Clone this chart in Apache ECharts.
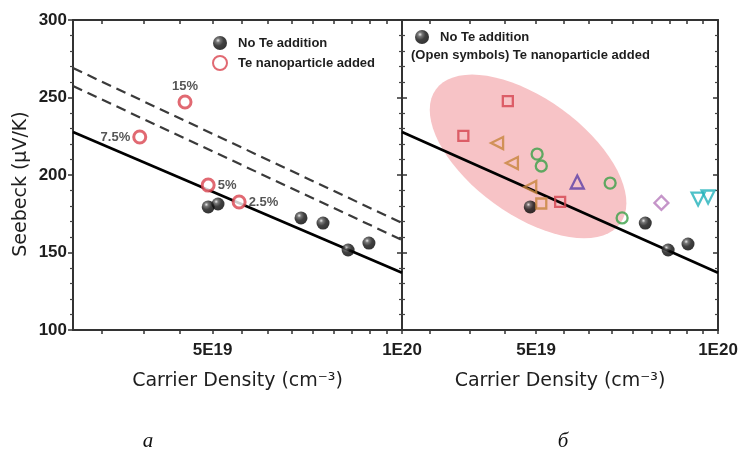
<!DOCTYPE html>
<html>
<head>
<meta charset="utf-8">
<script src="https://cdn.jsdelivr.net/npm/echarts@6/dist/echarts.min.js"></script>
<style>
  html, body { margin: 0; padding: 0; background: #fff; }
  #chart { width: 741px; height: 454px; }
</style>
</head>
<body>
<div id="chart"></div>
<script>
// Carrier density values are in units of 1E19 cm^-3, Seebeck coefficient in µV/K.
const densityTicks = [3.33, 3.89, 4.44, 5, 5.56, 6.11, 6.67, 7.22, 7.78, 8.33, 8.89, 9.44, 10];
const densityLabels = [5, 10];
const densityRange = [3, 10];
const seebeckRange = [100, 300];
const seebeckStep = 50;

// Panel a
const aNoTeDensity = [4.92, 5.10, 6.91, 7.49, 8.21, 8.86];
const aNoTeSeebeck = [179.4, 181.3, 172.3, 169.0, 151.6, 156.1];
const aTeDensity = [3.83, 4.52, 4.92, 5.51];
const aTeSeebeck = [224.5, 247.1, 193.5, 182.6];
const aTeLabels = ['7.5%', '15%', '5%', '2.5%'];

// Reference lines, given at both ends of the density range
const lineDensity = [3, 10];
const solidSeebeck = [227.7, 137.0];
const dashUpperSeebeck = [269.0, 169.0];
const dashLowerSeebeck = [257.4, 158.1];

// Panel б
const bNoTeDensity = [4.89, 7.58, 8.27, 8.92];
const bNoTeSeebeck = [179.4, 169.0, 151.6, 155.5];
const bRedSquareDensity = [3.79, 4.49, 5.48];
const bRedSquareSeebeck = [225.2, 247.7, 182.6];
const bOrangeTriDensity = [4.31, 4.56, 4.89];
const bOrangeTriSeebeck = [220.6, 207.7, 192.3];
const bOrangeSquareDensity = [5.10];
const bOrangeSquareSeebeck = [181.6];
const bGreenCircleDensity = [5.02, 5.10, 6.63, 6.94];
const bGreenCircleSeebeck = [213.5, 205.8, 194.8, 172.3];
const bPurpleTriDensity = [5.85];
const bPurpleTriSeebeck = [195.5];
const bDiamondDensity = [8.06];
const bDiamondSeebeck = [182.0];
const bCyanTriDensity = [9.27, 9.63];
const bCyanTriSeebeck = [184.5, 185.8];
// Shaded region centre
const regionDensity = [4.85];
const regionSeebeck = [212.0];

// ---- drawing ----
const lg = v => Math.log10(v);
const pairs = (xs, ys) => xs.map((x, i) => [lg(x), ys[i]]);
const fmtDensity = v => {
  const n = Math.pow(10, v);
  const e = Math.floor(Math.log10(n) + 1e-9);
  const m = Math.round(n / Math.pow(10, e) * 10) / 10;
  return m + 'E' + (19 + e);
};

const INK = '#1e1e1e';
const AXIS_FONT = 'Liberation Sans';
const TITLE_FONT = 'DejaVu Sans';

const sphere = new echarts.graphic.RadialGradient(0.36, 0.32, 0.7, [
  { offset: 0, color: '#e6e6e6' },
  { offset: 0.22, color: '#555' },
  { offset: 0.55, color: '#111' },
  { offset: 1, color: '#000' }
]);

const labelPlacement = { '7.5%': 'left', '15%': 'top', '5%': 'right', '2.5%': 'right' };

function xAxisDef(grid, position, withLabels) {
  const ax = {
    type: 'value', gridIndex: grid, position: position,
    min: lg(densityRange[0]), max: lg(densityRange[1]),
    splitLine: { show: false },
    axisLine: { show: true, onZero: false, lineStyle: { color: '#333', width: 2 } },
    axisTick: { show: true, inside: position === 'top', length: 4,
      customValues: densityTicks.map(lg), lineStyle: { color: '#333', width: 1.5 } },
    axisLabel: { show: withLabels, customValues: densityLabels.map(lg), formatter: fmtDensity,
      margin: 12, fontFamily: AXIS_FONT, fontWeight: 'bold', fontSize: 17, color: INK }
  };
  if (withLabels) {
    ax.name = 'Carrier Density (cm⁻³)';
    ax.nameLocation = 'middle';
    ax.nameGap = 42;
    ax.nameTextStyle = { fontFamily: TITLE_FONT, fontSize: 19, color: INK };
  }
  return ax;
}

function yAxisDef(grid, position, withLabels) {
  return {
    type: 'value', gridIndex: grid, position: position,
    min: seebeckRange[0], max: seebeckRange[1], interval: seebeckStep,
    splitLine: { show: false },
    axisLine: { show: true, onZero: false, lineStyle: { color: '#333', width: 2 } },
    axisTick: { show: true, inside: !(grid === 0 && position === 'left'), length: 5,
      lineStyle: { color: '#333', width: 1.5 } },
    minorTick: { show: true, splitNumber: 5, length: 3, lineStyle: { color: '#444', width: 1.2 } },
    axisLabel: { show: withLabels, margin: 6, fontFamily: AXIS_FONT, fontWeight: 'bold',
      fontSize: 17, color: INK }
  };
}

function lineSeries(name, ys, x, y, dashed) {
  return {
    type: 'line', name: name, xAxisIndex: x, yAxisIndex: y,
    data: pairs(lineDensity, ys), showSymbol: false, silent: true, z: 3,
    lineStyle: dashed ? { color: '#3a3a3a', width: 2.2, type: [10, 6] } : { color: '#000', width: 2.7 }
  };
}

function openSeries(name, xs, ys, symbol, color, size, rotate) {
  return {
    type: 'scatter', name: name, xAxisIndex: 1, yAxisIndex: 2,
    data: pairs(xs, ys), symbol: symbol, symbolSize: size, symbolRotate: rotate || 0, z: 5,
    itemStyle: { color: 'rgba(255,255,255,0)', borderColor: color, borderWidth: 2.3 }
  };
}

function ellipseRender(params, api) {
  const c = api.coord([api.value(0), api.value(1)]);
  const a = 114, b = 58, th = 36 * Math.PI / 180;
  const pts = [];
  for (let k = 0; k < 72; k++) {
    const t = k / 72 * Math.PI * 2;
    const u = a * Math.cos(t), w = b * Math.sin(t);
    pts.push([c[0] + u * Math.cos(th) - w * Math.sin(th), c[1] + u * Math.sin(th) + w * Math.cos(th)]);
  }
  return { type: 'polygon', shape: { points: pts }, style: { fill: '#f7c3c6' } };
}

const chart = echarts.init(document.getElementById('chart'), null, { renderer: 'canvas' });

const legendText = { fontFamily: AXIS_FONT, fontWeight: 'bold', fontSize: 13, color: INK,
  padding: [0, 0, 0, 2] };

const option = {
  backgroundColor: '#fff',
  animation: false,
  grid: [
    { left: 73, top: 20, width: 329, height: 310 },
    { left: 402, top: 20, width: 316, height: 310 }
  ],
  xAxis: [
    xAxisDef(0, 'bottom', true),
    xAxisDef(1, 'bottom', true),
    xAxisDef(0, 'top', false),
    xAxisDef(1, 'top', false)
  ],
  yAxis: [
    yAxisDef(0, 'left', true),
    yAxisDef(0, 'right', false),
    yAxisDef(1, 'left', false),
    yAxisDef(1, 'right', false)
  ],
  legend: [
    {
      data: ['No Te addition', 'Te nanoparticle added'], orient: 'vertical', padding: 0,
      left: 212, top: 36, itemWidth: 22, itemHeight: 14, itemGap: 5, selectedMode: false,
      textStyle: legendText
    },
    {
      data: ['No Te addition'], orient: 'vertical', padding: 0,
      left: 415, top: 30, itemWidth: 22, itemHeight: 14, selectedMode: false,
      textStyle: legendText
    }
  ],
  graphic: [
    { type: 'text', left: 411, top: 49,
      style: { text: '(Open symbols) Te nanoparticle added', fill: INK,
        font: 'bold 13px "Liberation Sans"' } },
    { type: 'text', x: 21, y: 184, rotation: Math.PI / 2,
      style: { text: 'Seebeck (μV/K)', fill: INK, font: '19px "DejaVu Sans"',
        align: 'center', verticalAlign: 'middle' } },
    { type: 'text', x: 148, y: 441,
      style: { text: 'a', fill: '#111', font: 'italic 21px "Liberation Serif"',
        align: 'center', verticalAlign: 'middle' } },
    { type: 'text', x: 563, y: 441,
      style: { text: 'б', fill: '#111', font: 'italic 21px "Liberation Serif"',
        align: 'center', verticalAlign: 'middle' } }
  ],
  series: [
    // panel a
    lineSeries('fit a', solidSeebeck, 0, 0, false),
    lineSeries('upper a', dashUpperSeebeck, 0, 0, true),
    lineSeries('lower a', dashLowerSeebeck, 0, 0, true),
    {
      type: 'scatter', name: 'No Te addition', xAxisIndex: 0, yAxisIndex: 0,
      data: pairs(aNoTeDensity, aNoTeSeebeck), symbol: 'circle', symbolSize: 13, z: 4,
      itemStyle: { color: sphere }
    },
    {
      type: 'scatter', name: 'Te nanoparticle added', xAxisIndex: 0, yAxisIndex: 0,
      data: pairs(aTeDensity, aTeSeebeck).map((p, i) => ({
        value: p,
        label: { position: labelPlacement[aTeLabels[i]] }
      })),
      symbol: 'circle', symbolSize: 12, z: 5,
      itemStyle: { color: '#fff', borderColor: '#d9434f', borderWidth: 3 },
      label: {
        show: true, distance: 2,
        formatter: p => aTeLabels[p.dataIndex],
        fontFamily: AXIS_FONT, fontWeight: 'bold', fontSize: 13, color: '#2a2a2a'
      }
    },
    // panel б
    {
      type: 'custom', name: 'region', xAxisIndex: 1, yAxisIndex: 2, z: 1, silent: true,
      renderItem: ellipseRender, data: pairs(regionDensity, regionSeebeck)
    },
    lineSeries('fit b', solidSeebeck, 1, 2, false),
    {
      type: 'scatter', name: 'No Te addition', xAxisIndex: 1, yAxisIndex: 2,
      data: pairs(bNoTeDensity, bNoTeSeebeck), symbol: 'circle', symbolSize: 13, z: 4,
      itemStyle: { color: sphere }
    },
    openSeries('red squares', bRedSquareDensity, bRedSquareSeebeck, 'rect', '#d4434f', 10),
    openSeries('orange triangles', bOrangeTriDensity, bOrangeTriSeebeck, 'triangle', '#c7843c', 12, 90),
    openSeries('orange square', bOrangeSquareDensity, bOrangeSquareSeebeck, 'rect', '#c7843c', 10),
    openSeries('green circles', bGreenCircleDensity, bGreenCircleSeebeck, 'circle', '#3aa047', 11),
    openSeries('purple triangle', bPurpleTriDensity, bPurpleTriSeebeck, 'triangle', '#5b3fa6', 13),
    openSeries('diamond', bDiamondDensity, bDiamondSeebeck, 'diamond', '#b67bbb', 14),
    openSeries('cyan triangles', bCyanTriDensity, bCyanTriSeebeck, 'triangle', '#22b1ba', 13, 180)
  ]
};

chart.setOption(option);
</script>
</body>
</html>
